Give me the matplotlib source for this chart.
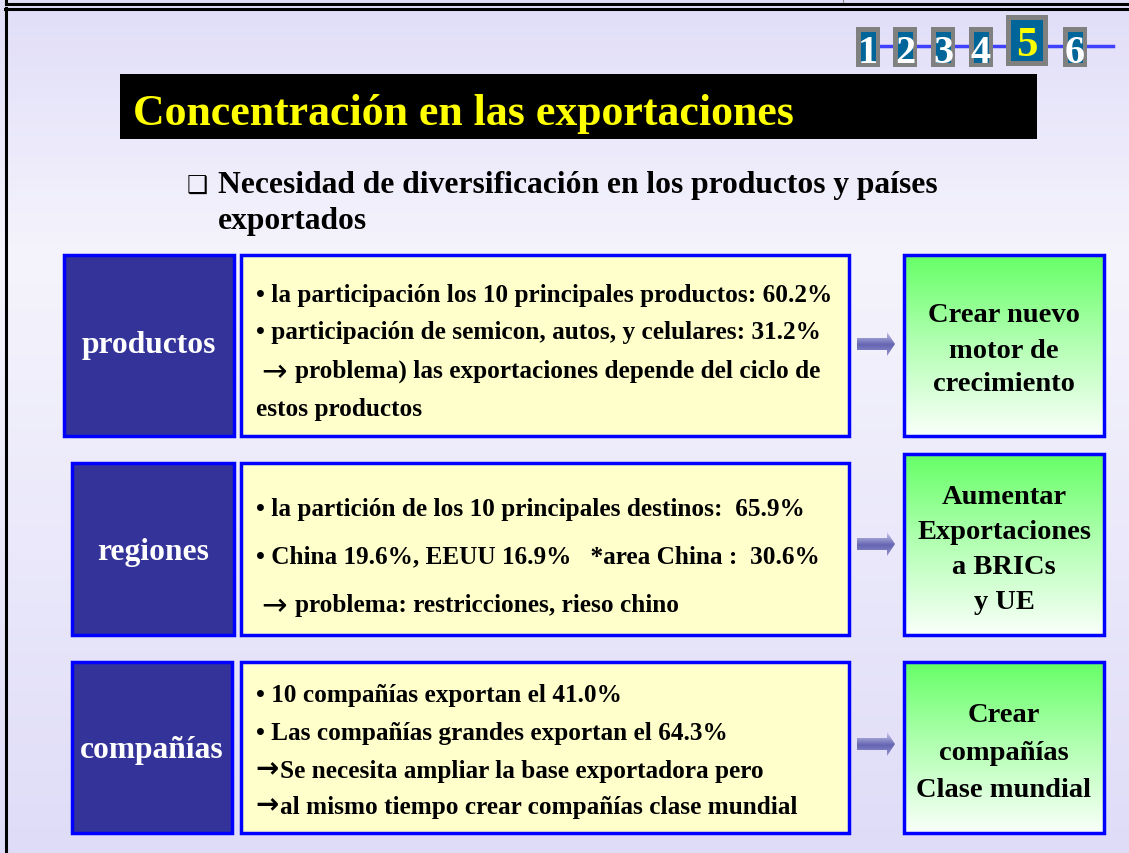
import matplotlib.pyplot as plt
import matplotlib.patches as mpatches
import numpy as np

# slide content
title = "Concentración en las exportaciones"
subtitle = ["Necesidad de diversificación en los productos y países", "exportados"]
nav_labels = ["1", "2", "3", "4", "5", "6"]
current_page = "5"

row_labels = ["productos", "regiones", "compañías"]
row_details = [
    ["• la participación los 10 principales productos: 60.2%",
     "• participación de semicon, autos, y celulares: 31.2%",
     " \u2192 problema) las exportaciones depende del ciclo de",
     "estos productos"],
    ["• la partición de los 10 principales destinos:  65.9%",
     "• China 19.6%, EEUU 16.9%   *area China :  30.6%",
     " \u2192 problema: restricciones, rieso chino"],
    ["• 10 compañías exportan el 41.0%",
     "• Las compañías grandes exportan el 64.3%",
     "\u2192Se necesita ampliar la base exportadora pero",
     "\u2192al mismo tiempo crear compañías clase mundial"],
]
row_actions = [
    ["Crear nuevo", "motor de", "crecimiento"],
    ["Aumentar", "Exportaciones", "a BRICs", "y UE"],
    ["Crear", "compañías", "Clase mundial"],
]

SERIF = ["Liberation Serif", "DejaVu Serif", "DejaVu Sans"]
W, H = 1129, 854

fig = plt.figure(figsize=(W / 100, H / 100), dpi=100)
ax = fig.add_axes([0, 0, 1, 1])


def vgrad(stops, n=256):
    pos = np.array([s[0] for s in stops])
    cols = np.array([s[1] for s in stops], dtype=float) / 255
    t = np.linspace(0, 1, n)
    arr = np.stack([np.interp(t, pos, cols[:, i]) for i in range(3)], axis=1)
    return arr[:, None, :]


# background
ax.imshow(vgrad([(0, (224, 221, 248)), (0.3, (245, 244, 252)), (1, (223, 220, 248))]),
          extent=(0, W, H, 0), aspect="auto", zorder=0)

# frame lines
ax.plot([6, W], [5, 5], color="black", lw=2.2, zorder=1)
ax.plot([6, 6], [0, 5], color="black", lw=2.2, zorder=1)
ax.plot([5, W], [9.5, 9.5], color="black", lw=2.2, zorder=1)
ax.plot([6, 6], [9, H], color="black", lw=2.2, zorder=1)
ax.plot([843, 843], [0, 3], color="#888888", lw=0.8, zorder=1)

# page navigation
ax.plot([880, 1113], [47, 47], color="#4040ff", lw=2.5, zorder=2)
nav_x = [856, 893, 931, 969, 1006, 1063]
for lab, x in zip(nav_labels, nav_x):
    big = lab == current_page
    w, h, y = (42, 51, 16) if big else (24, 40, 28)
    pad = 5 if big else 4.5
    ax.add_patch(mpatches.Rectangle((x, y), w, h, facecolor="#808080", edgecolor="none", zorder=3))
    ax.add_patch(mpatches.Rectangle((x + pad, y + pad), w - 2 * pad, h - 2 * pad,
                                    facecolor="#006699", edgecolor="none", zorder=4))
    ax.text(x + w / 2, y + h / 2 + (14 if big else 15), lab, family=SERIF, weight="bold",
            fontsize=31 if big else 29, color="#ffff00" if big else "white",
            ha="center", va="baseline", zorder=5)

# title bar
ax.add_patch(mpatches.Rectangle((120, 75), 917, 65, facecolor="black", zorder=2))
ax.text(133, 125, title, family=SERIF, weight="bold", fontsize=31.6, color="#ffff00",
        ha="left", va="baseline", zorder=3)

# subtitle
ax.text(187, 187, "\u2751", family=["DejaVu Sans"], fontsize=17, color="black",
        ha="left", va="center", zorder=3)
ax.text(218, 193, subtitle[0], family=SERIF, weight="bold", fontsize=22.7,
        ha="left", va="baseline", zorder=3)
ax.text(218, 229, subtitle[1], family=SERIF, weight="bold", fontsize=22.7,
        ha="left", va="baseline", zorder=3)

# rows
navy_boxes = [(64, 256, 234, 437), (72, 464, 234, 636), (72, 663, 232, 834)]
yellow_boxes = [(241, 256, 849, 437), (241, 464, 849, 636), (241, 663, 849, 834)]
green_boxes = [(904, 256, 1104, 437), (904, 455, 1104, 636), (904, 663, 1104, 834)]
detail_y = [[302, 339, 378, 416], [516, 563, 612], [702, 740, 778, 814]]
action_y = [[322, 358, 391], [504, 539, 574, 609], [722, 760, 797]]
label_y = [353, 560, 758]
arrow_y = [345, 545, 745]

green_img = vgrad([(0, (102, 255, 102)), (0.5, (180, 255, 180)), (1, (250, 255, 250))])
arrow_img = vgrad([(0, (205, 205, 238)), (0.55, (100, 100, 178)), (1, (150, 150, 210))])

for i in range(3):
    x0, y0, x1, y1 = navy_boxes[i]
    ax.add_patch(mpatches.Rectangle((x0, y0), x1 - x0, y1 - y0, facecolor="#333399",
                                    edgecolor="#0000ff", lw=2.5, zorder=3))
    ax.text((x0 + x1) / 2, label_y[i], row_labels[i], family=SERIF, weight="bold",
            fontsize=22.7, color="white", ha="center", va="baseline", zorder=4)

    x0, y0, x1, y1 = yellow_boxes[i]
    ax.add_patch(mpatches.Rectangle((x0, y0), x1 - x0, y1 - y0, facecolor="#ffffcc",
                                    edgecolor="#0000ff", lw=2.5, zorder=3))
    for line, y in zip(row_details[i], detail_y[i]):
        if line.strip().startswith("\u2192"):
            # arrow drawn separately so it gets a longer glyph
            spaced = line.startswith(" ")
            rest = line.strip()[1:].strip()
            if spaced:
                ax.text(261, y + 3, "\u2192", family=["DejaVu Sans"], weight="normal",
                        fontsize=22, ha="left", va="baseline", zorder=4)
            else:
                ax.text(255, y - 1, "\u2192", family=["DejaVu Sans"], weight="bold",
                        fontsize=20, ha="left", va="baseline", zorder=4)
            ax.text(295 if spaced else 280, y, rest, family=SERIF, weight="bold",
                    fontsize=18.2, ha="left", va="baseline", zorder=4)
        else:
            ax.text(256, y, line, family=SERIF, weight="bold", fontsize=18.2,
                    ha="left", va="baseline", zorder=4)

    x0, y0, x1, y1 = green_boxes[i]
    im = ax.imshow(green_img, extent=(x0, x1, y1, y0), aspect="auto", zorder=3)
    frame = mpatches.Rectangle((x0, y0), x1 - x0, y1 - y0, facecolor="none",
                               edgecolor="#0000ff", lw=2.5, zorder=4)
    ax.add_patch(frame)
    im.set_clip_path(mpatches.Rectangle((x0, y0), x1 - x0, y1 - y0, transform=ax.transData))
    for line, y in zip(row_actions[i], action_y[i]):
        ax.text(1004, y, line, family=SERIF, weight="bold", fontsize=20.5,
                ha="center", va="baseline", zorder=5)

    # block arrow
    ay = arrow_y[i]
    pts = [(857, ay - 6), (887, ay - 6), (887, ay - 12), (895, ay),
           (887, ay + 12), (887, ay + 6), (857, ay + 6)]
    poly = mpatches.Polygon(pts, closed=True, facecolor="none", edgecolor="none",
                            transform=ax.transData)
    ax.add_patch(poly)
    aim = ax.imshow(arrow_img, extent=(857, 895, ay + 12, ay - 12), aspect="auto", zorder=3)
    aim.set_clip_path(poly)

ax.set_xlim(0, W)
ax.set_ylim(H, 0)
ax.axis("off")
fig.savefig("out.png", dpi=100)
